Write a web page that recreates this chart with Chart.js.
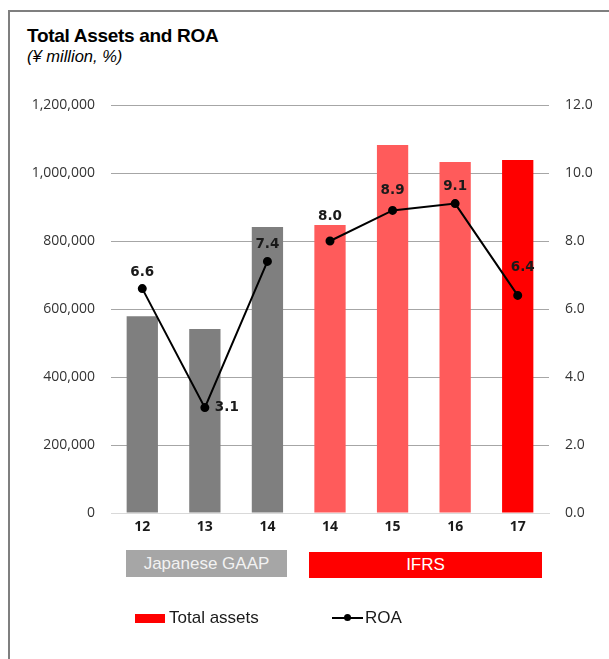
<!DOCTYPE html>
<html>
<head>
<meta charset="utf-8">
<script src="https://cdn.jsdelivr.net/npm/chart.js@4.4.1/dist/chart.umd.min.js"></script>
<style>
  html, body { margin: 0; padding: 0; background: #fff; }
  #wrap { position: relative; width: 609px; height: 659px; overflow: hidden; font-family: "Liberation Sans", Arial, sans-serif; }
  #frame { position: absolute; left: 8px; top: 10px; width: 620px; height: 700px; border-top: 2px solid #7f7f7f; border-left: 2px solid #7f7f7f; }
  #title { position: absolute; left: 27px; top: 25px; font-weight: bold; font-size: 19px; color: #000; letter-spacing: -0.3px; }
  #sub { position: absolute; left: 27px; top: 47px; font-style: italic; font-size: 16.5px; color: #000; }
  canvas { position: absolute; left: 0; top: 0; }
  .grp { position: absolute; display: flex; align-items: center; justify-content: center; font-size: 17px; }
  #jg { left: 126px; top: 550px; width: 161px; height: 27px; background: #A6A6A6; color: #F2F2F2; }
  #ifrs { left: 309px; top: 552px; width: 233px; height: 26px; background: #FF0000; color: #FFFFFF; }
  .leg { position: absolute; font-size: 17px; color: #1a1a1a; }
</style>
</head>
<body>
<div id="wrap">
  <div id="frame"></div>
  <div id="title">Total Assets and ROA</div>
  <div id="sub">(¥ million, %)</div>
  <canvas id="c" width="609" height="659"></canvas>
  <div class="grp" id="jg"></div>
  <div class="grp" id="ifrs"></div>
  <div class="leg" id="leg1" style="left:135px;top:608px;display:flex;align-items:center;">
    <span style="display:inline-block;width:30px;height:9px;background:#FF0000;margin-right:4px;"></span><span id="legA"></span>
  </div>
  <div class="leg" id="leg2" style="left:332px;top:608px;display:flex;align-items:center;">
    <span style="position:relative;display:inline-block;width:31px;height:2px;background:#000;margin-right:2px;">
      <span style="position:absolute;left:12px;top:-3px;width:7px;height:7px;border-radius:50%;background:#000;"></span>
    </span><span id="legB"></span>
  </div>
</div>
<script>
// ---- data ----
const categories = ["12", "13", "14", "14", "15", "16", "17"];
const totalAssets = [579000, 541000, 841000, 847000, 1082000, 1032000, 1038000];
const roa = [6.6, 3.1, 7.4, 8.0, 8.9, 9.1, 6.4];
const groupLabels = ["Japanese GAAP", "IFRS"];
const seriesNames = ["Total assets", "ROA"];
const leftTicks = [0, 200000, 400000, 600000, 800000, 1000000, 1200000];
const rightTicks = [0, 2, 4, 6, 8, 10, 12];

// ---- styles ----
const barColors = ["#7F7F7F", "#7F7F7F", "#7F7F7F", "#FF5B5B", "#FF5B5B", "#FF5B5B", "#FF0000"];
const labelPlacement = [
  { dx: 0, dy: -16, align: "center" },
  { dx: 10, dy: 0, align: "left" },
  { dx: 0, dy: -17, align: "center" },
  { dx: 0, dy: -25, align: "center" },
  { dx: 0, dy: -20, align: "center" },
  { dx: 0, dy: -17, align: "center" },
  { dx: 5, dy: -28, align: "center" }
];

document.getElementById("jg").textContent = groupLabels[0];
document.getElementById("ifrs").textContent = groupLabels[1];
document.getElementById("legA").textContent = seriesNames[0];
document.getElementById("legB").textContent = seriesNames[1];

const labelPlugin = {
  id: "roaLabels",
  afterDatasetsDraw(chart) {
    const meta = chart.getDatasetMeta(0);
    const ctx = chart.ctx;
    ctx.save();
    ctx.font = "bold 13.5px 'DejaVu Sans'";
    ctx.fillStyle = "#1a1a1a";
    ctx.textBaseline = "middle";
    meta.data.forEach((pt, i) => {
      const p = labelPlacement[i];
      ctx.textAlign = p.align;
      ctx.fillText(roa[i].toFixed(1), pt.x + p.dx, pt.y + p.dy);
    });
    ctx.restore();
  }
};

new Chart(document.getElementById("c"), {
  data: {
    labels: categories,
    datasets: [
      {
        type: "line",
        label: seriesNames[1],
        data: roa,
        yAxisID: "y2",
        borderColor: "#000",
        borderWidth: 2,
        pointRadius: 3.5,
        pointBackgroundColor: "#000",
        pointBorderColor: "#000",
        tension: 0,
        order: 0,
        segment: {
          borderColor: c => (c.p0DataIndex === 2 ? "rgba(0,0,0,0)" : "#000")
        }
      },
      {
        type: "bar",
        label: seriesNames[0],
        data: totalAssets,
        yAxisID: "y",
        backgroundColor: barColors,
        borderWidth: 0,
        barPercentage: 0.5,
        categoryPercentage: 1.0,
        order: 1
      }
    ]
  },
  options: {
    responsive: false,
    animation: false,
    events: [],
    layout: { padding: { left: 0, right: 0, top: 105, bottom: 0 } },
    plugins: { legend: { display: false }, tooltip: { enabled: false } },
    scales: {
      x: {
        grid: { display: false, drawTicks: false },
        border: { display: true, color: "#D9D9D9", width: 1 },
        ticks: { padding: 6, color: "#1a1a1a", font: { family: "Open Sans", size: 14, weight: "bold" } },
        afterFit: s => { s.height = 146; }
      },
      y: {
        position: "left",
        min: 0, max: 1200000,
        afterBuildTicks: s => { s.ticks = leftTicks.map(v => ({ value: v })); },
        grid: { color: c => (c.tick && c.tick.value === 0 ? "#D9D9D9" : "#A6A6A6"), drawTicks: false, lineWidth: 1 },
        border: { display: false },
        ticks: {
          padding: 16, color: "#333333",
          font: { family: "Open Sans", size: 14 },
          callback: v => v.toLocaleString("en-US")
        },
        afterFit: s => { s.width = 111; }
      },
      y2: {
        position: "right",
        min: 0, max: 12,
        afterBuildTicks: s => { s.ticks = rightTicks.map(v => ({ value: v })); },
        grid: { display: false, drawTicks: false },
        border: { display: false },
        ticks: {
          padding: 16, color: "#333333",
          font: { family: "Open Sans", size: 14 },
          callback: v => Number(v).toFixed(1)
        },
        afterFit: s => { s.width = 60; }
      }
    }
  },
  plugins: [labelPlugin]
});
</script>
</body>
</html>
